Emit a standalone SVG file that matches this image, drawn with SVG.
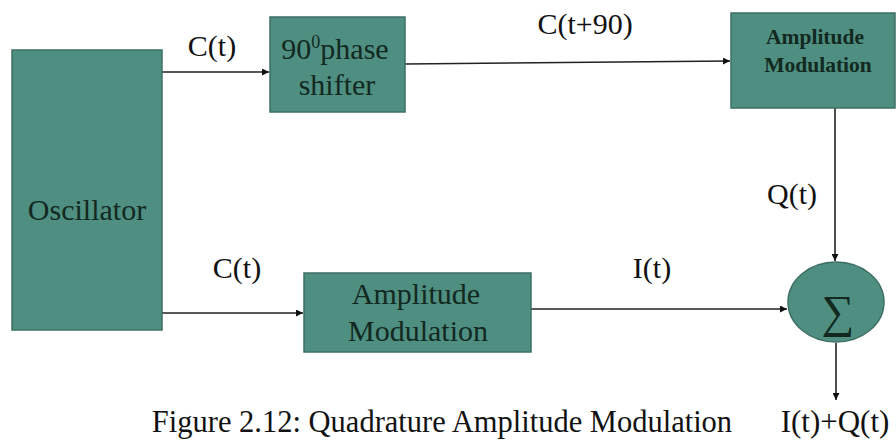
<svg xmlns="http://www.w3.org/2000/svg" width="896" height="445" viewBox="0 0 896 445">
  <style>
    .box { fill: #4e8f81; stroke: #3d6f64; stroke-width: 1.5; }
    .t { font-family: "Liberation Serif", "Times New Roman", serif; fill: #111; }
    .lbl { font-family: "Liberation Serif", "Times New Roman", serif; fill: #13291f; }
    .ln { stroke: #222; stroke-width: 1.6; fill: none; }
  </style>
  <defs>
    <marker id="ah" viewBox="0 0 10 10" refX="10" refY="5" markerWidth="7" markerHeight="7" markerUnits="userSpaceOnUse" orient="auto">
      <path d="M0,0 L10,5 L0,10 z" fill="#111"/>
    </marker>
  </defs>
  <rect width="896" height="445" fill="#ffffff"/>

  <g id="connectors">
    <line class="ln" x1="162" y1="72" x2="269" y2="72" marker-end="url(#ah)"/>
    <line class="ln" x1="405" y1="64" x2="730" y2="61" marker-end="url(#ah)"/>
    <line class="ln" x1="835" y1="108" x2="835" y2="261" marker-end="url(#ah)"/>
    <line class="ln" x1="162" y1="313" x2="303" y2="313" marker-end="url(#ah)"/>
    <line class="ln" x1="531" y1="309" x2="787" y2="309" marker-end="url(#ah)"/>
    <line class="ln" x1="836" y1="343" x2="836" y2="400" marker-end="url(#ah)"/>
    <text class="t" x="212" y="56" font-size="30" text-anchor="middle">C(t)</text>
    <text class="t" x="585" y="34" font-size="30" text-anchor="middle">C(t+90)</text>
    <text class="t" x="792" y="204" font-size="30" text-anchor="middle">Q(t)</text>
    <text class="t" x="237" y="278" font-size="30" text-anchor="middle">C(t)</text>
    <text class="t" x="652" y="278" font-size="30" text-anchor="middle">I(t)</text>
    <text class="t" x="835" y="432" font-size="31" text-anchor="middle">I(t)+Q(t)</text>
  </g>

  <g id="oscillator">
    <rect class="box" x="12" y="50" width="150" height="280"/>
    <text class="lbl" x="87" y="220" font-size="30" text-anchor="middle">Oscillator</text>
  </g>

  <g id="phase-shifter">
    <rect class="box" x="270" y="17" width="135" height="95"/>
    <text class="lbl" x="335" y="59" font-size="30" text-anchor="middle">90<tspan font-size="18" dy="-11">0</tspan><tspan dy="11">phase</tspan></text>
    <text class="lbl" x="337" y="95" font-size="30" text-anchor="middle">shifter</text>
  </g>

  <g id="am-top">
    <rect class="box" x="731" y="13" width="164" height="95"/>
    <text class="lbl" x="815" y="44" font-size="21.5" font-weight="bold" text-anchor="middle">Amplitude</text>
    <text class="lbl" x="818" y="72" font-size="21.5" font-weight="bold" text-anchor="middle">Modulation</text>
  </g>

  <g id="am-bottom">
    <rect class="box" x="304" y="273" width="227" height="79"/>
    <text class="lbl" x="416" y="304" font-size="30" text-anchor="middle">Amplitude</text>
    <text class="lbl" x="418" y="341" font-size="30" text-anchor="middle">Modulation</text>
  </g>

  <g id="summer">
    <ellipse class="box" cx="836" cy="302" rx="48" ry="40"/>
    <text class="lbl" x="838" y="327" font-size="46" text-anchor="middle">∑</text>
  </g>

  <g id="caption">
    <text class="t" x="442" y="432" font-size="30.5" text-anchor="middle" fill="#222">Figure 2.12: Quadrature Amplitude Modulation</text>
  </g>
</svg>
